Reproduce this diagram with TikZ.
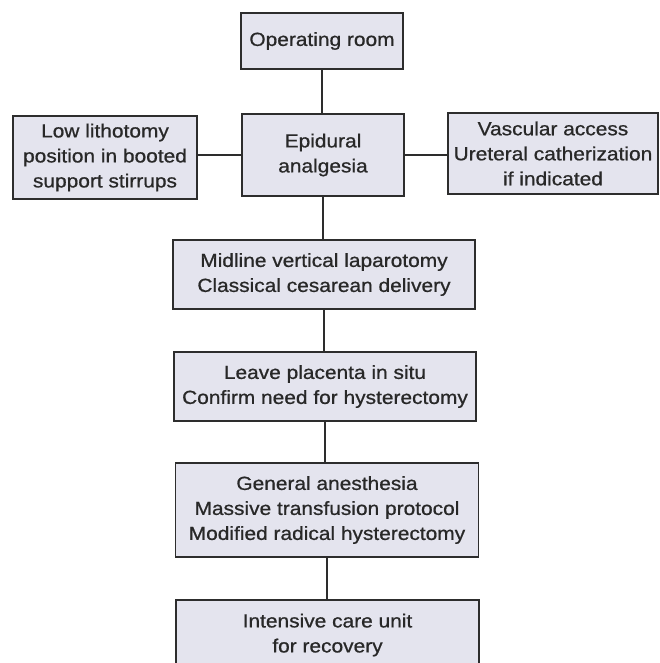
\documentclass[tikz,border=0pt]{standalone}
\usepackage{fontspec}
\setmainfont{Liberation Sans}[FakeStretch=1.1,FakeBold=0.8]
\definecolor{boxfill}{RGB}{228,228,238}
\definecolor{boxline}{RGB}{45,45,45}
\definecolor{txt}{RGB}{40,40,40}
\begin{document}
\begin{tikzpicture}[x=1pt,y=-1pt,
  flowbox/.style={draw=boxline, fill=boxfill, line width=1.4pt, inner sep=0pt,
    align=center, text=txt, font=\fontsize{19}{25}\selectfont},
  link/.style={draw=boxline, line width=1.4pt}]
\clip (0,0) rectangle (660,663);
\fill[white] (0,0) rectangle (660,663);
\node[flowbox, minimum width=162pt, minimum height=56pt] (op) at (322,41) {Operating room};
\node[flowbox, minimum width=162pt, minimum height=82pt] (epi) at (323,155) {Epidural\\analgesia};
\node[flowbox, minimum width=184pt, minimum height=83pt] (low) at (105,157.5) {Low lithotomy\\position in booted\\support stirrups};
\node[flowbox, minimum width=210pt, minimum height=81pt] (vas) at (553,153.5) {Vascular access\\Ureteral catherization\\if indicated};
\node[flowbox, minimum width=302pt, minimum height=69pt] (mid) at (324,274.5) {Midline vertical laparotomy\\Classical cesarean delivery};
\node[flowbox, minimum width=302pt, minimum height=69pt] (leave) at (325,386.5) {Leave placenta in situ\\Confirm need for hysterectomy};
\node[flowbox, minimum width=303pt, minimum height=94pt] (gen) at (327,510) {General anesthesia\\Massive transfusion protocol\\Modified radical hysterectomy};
\node[flowbox, minimum width=303pt, minimum height=70pt] (icu) at (327.5,635) {Intensive care unit\\for recovery};
\draw[link] (op.south) -- (op.south |- epi.north);
\draw[link] (low.east |- epi.west) -- (epi.west);
\draw[link] (epi.east) -- (vas.west |- epi.east);
\draw[link] (epi.south) -- (epi.south |- mid.north);
\draw[link] (mid.south) -- (mid.south |- leave.north);
\draw[link] (leave.south) -- (leave.south |- gen.north);
\draw[link] (gen.south) -- (gen.south |- icu.north);
\end{tikzpicture}
\end{document}
